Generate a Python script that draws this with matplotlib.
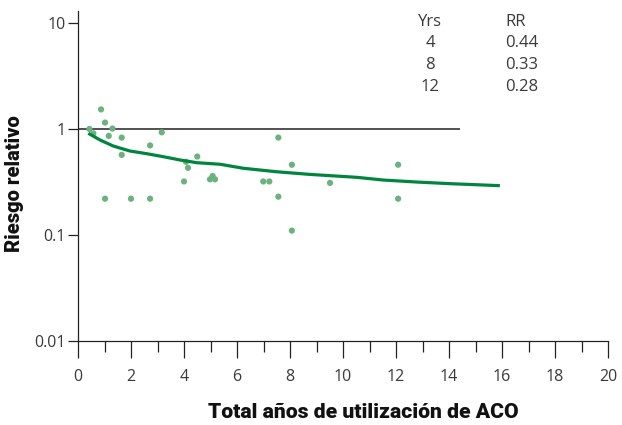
import matplotlib.pyplot as plt
import numpy as np
from matplotlib.ticker import FixedLocator, NullFormatter

# Individual study points (years of use, relative risk)
study_years = [0.43, 0.58, 0.87, 1.02, 1.30, 1.16, 1.65, 1.65, 1.02, 2.00, 2.72,
               2.72, 3.16, 4.50, 4.08, 4.15, 4.00, 4.98, 5.08, 5.17, 6.99, 7.22,
               7.56, 7.56, 8.07, 8.07, 9.51, 12.08, 12.08]
study_rr = [1.00, 0.91, 1.53, 1.15, 1.01, 0.86, 0.83, 0.57, 0.22, 0.22, 0.22,
            0.70, 0.93, 0.55, 0.49, 0.43, 0.32, 0.335, 0.36, 0.335, 0.32, 0.32,
            0.83, 0.23, 0.46, 0.11, 0.31, 0.46, 0.22]

# Fitted trend
trend_years = [0.39, 0.83, 1.33, 1.96, 2.59, 3.22, 3.85, 4.48, 5.36, 6.24, 7.50,
               8.75, 10.52, 11.52, 12.78, 14.04, 15.92]
trend_rr = [0.911, 0.788, 0.691, 0.620, 0.585, 0.548, 0.510, 0.481, 0.465, 0.426,
            0.395, 0.373, 0.350, 0.330, 0.316, 0.305, 0.292]

table_yrs = ["4", "8", "12"]
table_rr = ["0.44", "0.33", "0.28"]

yticks = [0.01, 0.1, 1, 10]
ytick_labels = ["0.01", "0.1", "1", "10"]

txt = "#3a3a3a"
plt.rcParams["font.family"] = ["Open Sans", "DejaVu Sans"]

W, H = 622, 425
fig = plt.figure(figsize=(W / 100, H / 100), dpi=100)
# axes: x 78..608 px, y 11..341 px
ax = fig.add_axes([78 / W, (H - 341) / H, 530 / W, 330 / H])

ax.set_yscale("log")
ax.set_xlim(0, 20)
ax.set_ylim(0.01, 10 ** (1 + 12 / 106))

ax.hlines(1, 0, 14.43, color="#222222", lw=1.1, zorder=2)
ax.scatter(study_years, study_rr, s=20, color="#6cb27e", edgecolors="none", zorder=3)
ax.plot(trend_years, trend_rr, color="#00853e", lw=2.3, zorder=4, solid_capstyle="butt")

for s in ["top", "right"]:
    ax.spines[s].set_visible(False)
for s in ["left", "bottom"]:
    ax.spines[s].set_color("#222222")
    ax.spines[s].set_linewidth(0.9)

ax.yaxis.set_major_locator(FixedLocator(yticks))
ax.set_yticklabels(ytick_labels)
ax.yaxis.set_minor_locator(FixedLocator([]))
ax.yaxis.set_minor_formatter(NullFormatter())
ax.tick_params(axis="y", which="major", length=7, width=0.9, color="#222222",
               pad=2, labelsize=11.5, labelcolor=txt)

ax.set_xticks(range(0, 21, 2))
ax.set_xticks(range(1, 21, 2), minor=True)
ax.tick_params(axis="x", which="major", length=12.5, width=0.9, color="#222222",
               pad=8, labelsize=11.5, labelcolor=txt)
ax.tick_params(axis="x", which="minor", length=8, width=0.9, color="#222222")

# Small table, top right
fig.text(430 / W, 1 - 21.7 / H, "Yrs", ha="center", va="center", fontsize=12, color=txt)
fig.text(505 / W, 1 - 21.7 / H, "RR", ha="left", va="center", fontsize=12, color=txt)
for i, (yr, rr) in enumerate(zip(table_yrs, table_rr)):
    yy = 1 - (43.3 + i * 22) / H
    fig.text(430 / W, yy, yr, ha="center", va="center", fontsize=12, color=txt)
    fig.text(505 / W, yy, rr, ha="left", va="center", fontsize=12, color=txt)

lab_font = ["Roboto", "DejaVu Sans"]
fig.text(363 / W, 1 - 413 / H, "Total años de utilización de ACO", ha="center",
         va="center", fontsize=15.2, fontweight="heavy", family=lab_font, color="#111111")
fig.text(15 / W, 1 - 184 / H, "Riesgo relativo", ha="center", va="center",
         rotation=90, fontsize=14.5, fontweight="heavy", family=lab_font, color="#111111")

fig.savefig("out.png", dpi=100)
